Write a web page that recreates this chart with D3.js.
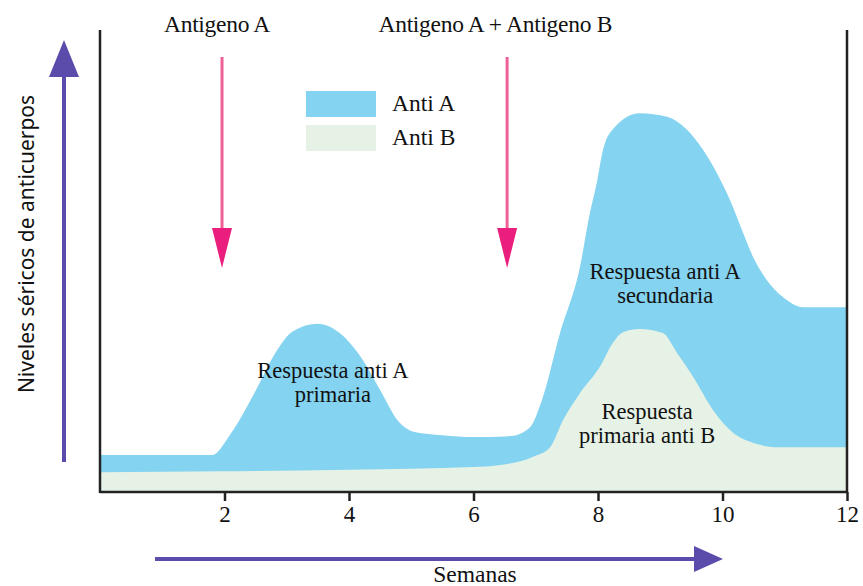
<!DOCTYPE html>
<html>
<head>
<meta charset="utf-8">
<script src="https://cdn.jsdelivr.net/npm/d3@7"></script>
<style>
  body { margin: 0; background: #fff; }
</style>
</head>
<body>
<svg id="view" width="863" height="586"></svg>
<script>
// weeks on x, antibody level (0-100) on y
const antiAWeeks  = [0, 1, 1.8, 2.1, 2.5, 2.8, 3.1, 3.5, 3.85, 4.2, 4.5, 4.8, 5.05, 5.5, 6.0, 6.6, 6.9, 7.1, 7.39, 7.71, 7.87, 7.98, 8.08, 8.19, 8.67, 9.11, 9.43, 9.69, 9.91, 10.12, 10.33, 10.49, 10.71, 10.97, 11.29, 12];
const antiAValues = [8, 8, 8, 12.6, 21.9, 29.7, 34.8, 36.4, 34.4, 29.0, 22.1, 15.2, 13.0, 12.3, 11.9, 12.1, 13.9, 19.9, 34.4, 48.7, 60.4, 66.9, 74.0, 77.7, 82.0, 81.2, 78.4, 74.0, 69.0, 63.2, 56.1, 50.9, 45.9, 42.2, 40.0, 40.0];

const antiBWeeks  = [0, 2, 4, 6, 6.4, 6.95, 7.23, 7.44, 7.71, 8.03, 8.24, 8.4, 8.67, 9.04, 9.27, 9.53, 9.85, 10.17, 10.5, 10.88, 12];
const antiBValues = [4.3, 4.5, 4.8, 5.4, 5.8, 7.6, 9.7, 15.6, 21.4, 27.1, 32.3, 34.6, 35.3, 34.4, 30.1, 24.9, 17.7, 12.8, 10.6, 9.7, 9.7];

const xTicks = [2, 4, 6, 8, 10, 12];
const legendLabels = ["Anti A", "Anti B"];
const antigenLabels = ["Antigeno A", "Antigeno A + Antigeno B"];
const antigenLabelWeeks = [1.88, 6.35];
const antigenArrowWeeks = [1.96, 6.54];
const notes = [
  {lines: ["Respuesta anti A", "primaria"], week: 3.74, level: 24.6},
  {lines: ["Respuesta anti A", "secundaria"], week: 9.08, level: 46.2},
  {lines: ["Respuesta", "primaria anti B"], week: 8.79, level: 15.9}
];

const colors = {a: "#84d3f0", b: "#e6f2e5", pink: "#e91e7d", pinkLine: "#ef5f98", purple: "#5b4bab"};
const serif = "'Liberation Serif', 'DejaVu Serif', serif";

const svg = d3.select("#view");
const x = d3.scaleLinear().domain([0, 12]).range([100, 847]);
const y = d3.scaleLinear().domain([0, 100]).range([492, 30]);

const area = d3.area()
  .x(d => x(d[0]))
  .y0(y(0))
  .y1(d => y(d[1]))
  .curve(d3.curveMonotoneX);

svg.append("path")
  .datum(d3.zip(antiAWeeks, antiAValues))
  .attr("fill", colors.a)
  .attr("d", area);

svg.append("path")
  .datum(d3.zip(antiBWeeks, antiBValues))
  .attr("fill", colors.b)
  .attr("d", area);

// serif text helper
const serifText = (sel, size) => sel.style("font-family", serif).style("fill", "#111")
  .style("font-size", size + "px");

// axes frame
const xAxis = d3.axisBottom(x).tickValues(xTicks).tickSize(9).tickPadding(5).tickFormat(d3.format("d"));
const gx = svg.append("g").attr("transform", `translate(0,${y(0)})`).call(xAxis);
gx.select(".domain").attr("d", `M${x(0)},0H${x(12)}`).attr("stroke", "#222").attr("stroke-width", 2.5);
gx.selectAll(".tick line").attr("stroke", "#222").attr("stroke-width", 2.5);
gx.selectAll(".tick text").call(serifText, 23);

svg.append("line").attr("x1", x(0)).attr("x2", x(0)).attr("y1", y(100)).attr("y2", y(0) + 1)
  .attr("stroke", "#222").attr("stroke-width", 2.5);
svg.append("line").attr("x1", x(12)).attr("x2", x(12)).attr("y1", y(100)).attr("y2", y(0))
  .attr("stroke", "#222").attr("stroke-width", 2.5);

// antigen arrows
antigenArrowWeeks.forEach(w => {
  const cx = x(w);
  svg.append("line").attr("x1", cx).attr("x2", cx).attr("y1", 57).attr("y2", 232)
    .attr("stroke", colors.pinkLine).attr("stroke-width", 3);
  svg.append("path").attr("d", `M${cx - 10},228L${cx + 10},228L${cx},268Z`).attr("fill", colors.pink);
});
svg.selectAll(".antigen").data(antigenLabels).join("text")
  .attr("x", (d, i) => x(antigenLabelWeeks[i]))
  .attr("y", 32)
  .attr("text-anchor", "middle")
  .call(serifText, 23.5)
  .style("letter-spacing", "-0.3px")
  .text(d => d);

// legend
const legend = svg.append("g").attr("transform", "translate(306,91)");
legendLabels.forEach((label, i) => {
  legend.append("rect").attr("x", 0).attr("y", i * 34).attr("width", 70).attr("height", 26)
    .attr("fill", i === 0 ? colors.a : colors.b);
  legend.append("text").attr("x", 86).attr("y", i * 34 + 20)
    .call(serifText, 23.5).text(label);
});

// annotations
notes.forEach(n => {
  const t = svg.append("text").attr("text-anchor", "middle").call(serifText, 22.5);
  n.lines.forEach((l, i) => {
    t.append("tspan").attr("x", x(n.week)).attr("y", y(n.level) + i * 24).text(l);
  });
});

// y arrow + label
svg.append("line").attr("x1", 64).attr("x2", 64).attr("y1", 462).attr("y2", 70)
  .attr("stroke", colors.purple).attr("stroke-width", 4);
svg.append("path").attr("d", "M49,77L79,77L64,40Z").attr("fill", colors.purple);
svg.append("text")
  .attr("transform", "translate(34,244) rotate(-90)")
  .attr("text-anchor", "middle")
  .style("font-family", "'Noto Sans', sans-serif")
  .style("fill", "#111")
  .style("font-size", "21px")
  .text("Niveles séricos de anticuerpos");

// x arrow + label
svg.append("line").attr("x1", 155).attr("x2", 700).attr("y1", 559).attr("y2", 559)
  .attr("stroke", colors.purple).attr("stroke-width", 4);
svg.append("path").attr("d", "M694,546L694,572L723,559Z").attr("fill", colors.purple);
svg.append("text").attr("x", 475).attr("y", 582).attr("text-anchor", "middle")
  .call(serifText, 23.5).text("Semanas");
</script>
</body>
</html>
